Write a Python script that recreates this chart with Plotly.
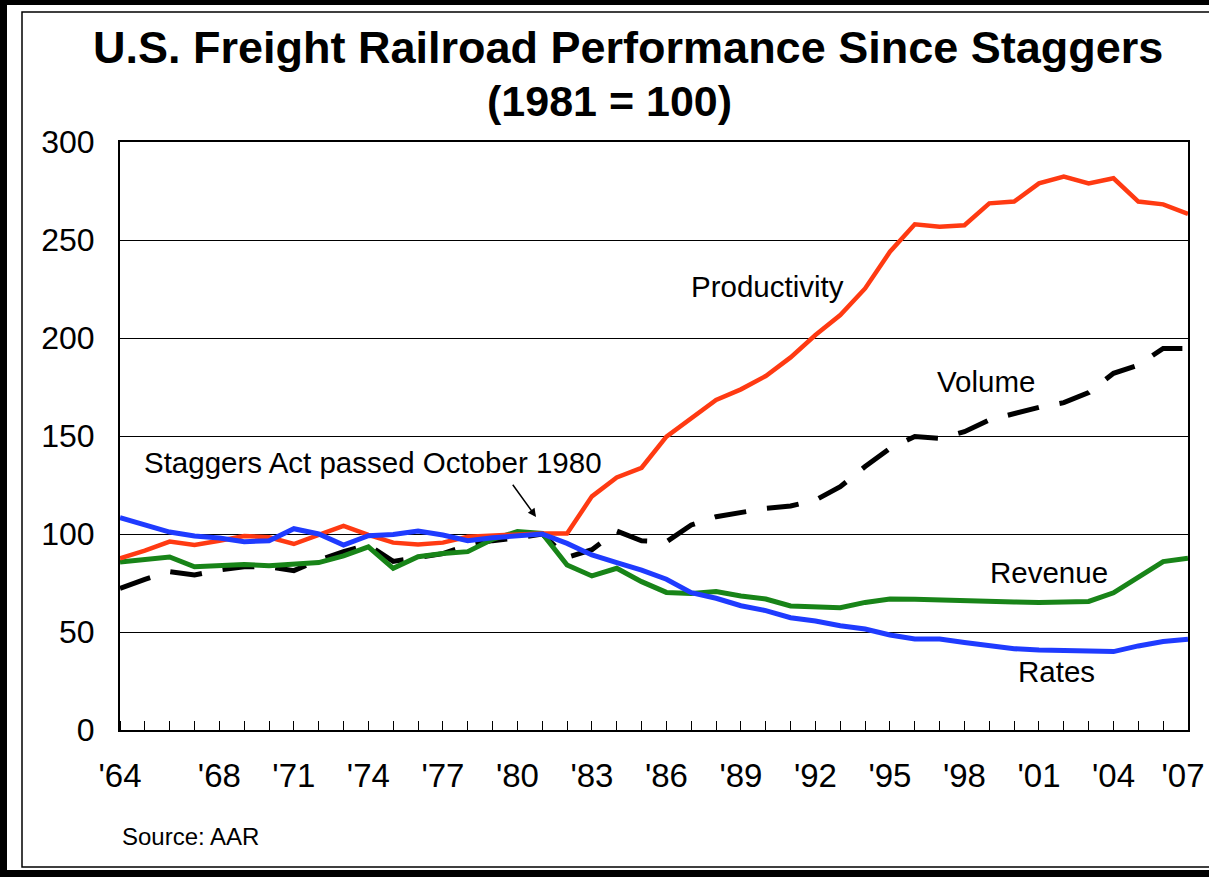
import plotly.graph_objects as go

# --- data (1981 = 100) ---
years = list(range(1964, 2008))

productivity = [87.6, 91.5, 96.1, 94.4, 96.6, 99.0, 98.3, 94.9, 99.5, 104.1,
                99.5, 95.6, 94.7, 95.6, 98.6, 99.1, 100.0, 100.3, 100.3, 119.2,
                128.9, 133.8, 149.7, 159.0, 168.4, 173.8, 180.6, 190.1, 201.5, 211.7,
                225.3, 244.0, 258.0, 256.8, 257.5, 268.7, 269.6, 278.9, 282.3, 278.9,
                281.5, 269.6, 268.2, 263.3]

volume = [72.3, 76.9, 80.8, 79.1, 81.6, 83.3, 83.3, 81.3, 86.7, 91.0,
          94.4, 86.0, 88.0, 90.0, 94.2, 96.6, 98.0, 100.0, 88.0, 92.0,
          101.5, 96.5, 96.0, 104.6, 108.8, 110.9, 113.1, 114.3, 117.3, 124.1,
          134.4, 143.7, 149.7, 148.8, 152.2, 158.2, 161.6, 164.6, 167.0, 172.1,
          182.0, 186.2, 194.7, 194.7]

revenue = [85.7, 87.1, 88.3, 83.3, 83.7, 84.5, 83.8, 84.5, 85.4, 88.8,
           93.4, 82.5, 88.4, 90.1, 91.0, 97.3, 101.2, 100.3, 84.2, 78.6,
           82.5, 75.7, 70.2, 69.7, 70.6, 68.4, 66.8, 63.3, 62.9, 62.4,
           65.1, 66.8, 66.7, 66.5, 66.0, 65.6, 65.3, 65.0, 65.0, 65.6,
           70.0, 78.2, 85.9, 87.6]

rates = [108.3, 104.4, 101.0, 99.0, 98.0, 96.1, 96.6, 102.7, 100.0, 94.4,
         99.1, 99.8, 101.5, 99.5, 96.6, 98.1, 99.0, 100.0, 95.2, 89.3,
         85.4, 81.6, 76.9, 70.1, 67.2, 63.4, 60.9, 57.3, 55.6, 53.2,
         51.5, 48.5, 46.4, 46.4, 44.6, 42.9, 41.5, 40.8, 40.5, 40.0,
         40.0, 42.9, 45.1, 46.3]

# tick labels; the last one sits slightly left of its tick in the reference
label_pos = [1964, 1968, 1971, 1974, 1977, 1980, 1983, 1986, 1989, 1992,
             1995, 1998, 2001, 2004, 2006.8]
label_text = ["'64", "'68", "'71", "'74", "'77", "'80", "'83", "'86", "'89", "'92",
              "'95", "'98", "'01", "'04", "'07"]

FONT = "Arial, Liberation Sans, sans-serif"
W, H = 1209, 877
L, R, T, B = 120, 1188, 142, 730   # plot area in pixels


def px(x):
    return (x - L) / (R - L)


def py(y):
    return (B - y) / (B - T)


fig = go.Figure()

fig.add_trace(go.Scatter(x=years, y=volume, mode="lines", name="Volume",
                         line=dict(color="black", width=5, dash="32px,21px")))
fig.add_trace(go.Scatter(x=years, y=revenue, mode="lines", name="Revenue",
                         line=dict(color="#188418", width=5)))
fig.add_trace(go.Scatter(x=years, y=productivity, mode="lines", name="Productivity",
                         line=dict(color="#FF3A12", width=4.5)))
fig.add_trace(go.Scatter(x=years, y=rates, mode="lines", name="Rates",
                         line=dict(color="#1F3BFF", width=5)))

# series labels
for txt, x, y in [("Productivity", 1990.05, 226.5), ("Volume", 1998.86, 178.0),
                  ("Revenue", 2001.4, 80.6), ("Rates", 2001.7, 29.6),
                  ("Staggers Act passed October 1980", 1974.2, 136.7)]:
    fig.add_annotation(x=x, y=y, text=txt, showarrow=False,
                       font=dict(family=FONT, size=29.5, color="black"))

fig.add_annotation(x=1980.75, y=108.7, ax=1979.77, ay=125.9, axref="x", ayref="y",
                   text="", showarrow=True, arrowhead=2, arrowsize=1.1,
                   arrowwidth=1.5, arrowcolor="black")

# title, subtitle, source
fig.add_annotation(xref="paper", yref="paper", x=px(628), y=py(48),
                   xanchor="center", yanchor="middle",
                   text="<b>U.S. Freight Railroad Performance Since Staggers</b>",
                   showarrow=False, font=dict(family=FONT, size=45, color="black"))
fig.add_annotation(xref="paper", yref="paper", x=px(609), y=py(101),
                   xanchor="center", yanchor="middle", text="<b>(1981 = 100)</b>",
                   showarrow=False, font=dict(family=FONT, size=43, color="black"))
fig.add_annotation(xref="paper", yref="paper", x=px(120), y=py(836),
                   xanchor="left", yanchor="middle", text="Source: AAR",
                   showarrow=False, font=dict(family=FONT, size=24, color="black"))

# white card on black background, with thin frame
fig.add_shape(type="rect", xref="paper", yref="paper", x0=px(7), x1=px(1230), y0=py(870), y1=py(5),
              fillcolor="white", line=dict(width=0), layer="below")
fig.add_shape(type="rect", xref="paper", yref="paper", x0=px(22), x1=px(1225), y0=py(867), y1=py(12),
              fillcolor="rgba(0,0,0,0)", line=dict(color="black", width=1.5), layer="below")

fig.update_xaxes(range=[1964, 2007], tickmode="array", tickvals=label_pos, ticktext=label_text,
                 ticks="",
                 minor=dict(tickmode="linear", tick0=1964, dtick=1, ticks="inside",
                            ticklen=9, tickwidth=1, tickcolor="black", showgrid=False),
                 showline=True, linecolor="black", linewidth=2, mirror=True,
                 showgrid=False, zeroline=False, ticklabelstandoff=15,
                 ticklabeloverflow="allow", automargin=False,
                 tickfont=dict(family=FONT, size=33, color="black"))
fig.update_yaxes(range=[0, 300], tickmode="array", tickvals=[0, 50, 100, 150, 200, 250, 300],
                 showline=True, linecolor="black", linewidth=2, mirror=True,
                 showgrid=True, gridcolor="black", gridwidth=1, zeroline=False,
                 ticks="", ticklabelstandoff=17, automargin=False,
                 tickfont=dict(family=FONT, size=32, color="black"))

fig.update_layout(width=W, height=H, showlegend=False,
                  paper_bgcolor="black", plot_bgcolor="white",
                  margin=dict(l=L, r=W - R, t=T, b=H - B, autoexpand=False),
                  font=dict(family=FONT, color="black"))

# page body: no default margin, black behind the card
fig.write_html("out.html", config={"displayModeBar": False},
               post_script="document.body.style.margin='0';document.body.style.background='black';")
